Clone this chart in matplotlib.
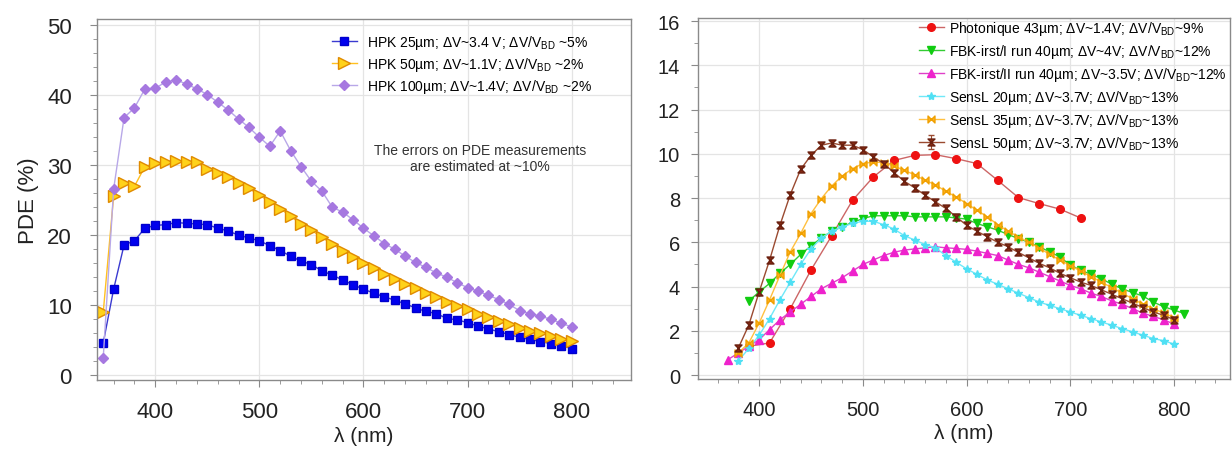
import numpy as np
import matplotlib
matplotlib.use("Agg")
import matplotlib.pyplot as plt
from matplotlib.path import Path
from matplotlib.ticker import MultipleLocator

plt.rcParams['font.family'] = ['Liberation Sans', 'DejaVu Sans']
plt.rcParams['mathtext.fontset'] = 'custom'
plt.rcParams['mathtext.rm'] = 'Liberation Sans'
plt.rcParams['mathtext.default'] = 'regular'

# ---- left panel: HPK ----
wl_hpk = list(range(350, 801, 10))
hpk25 = [4.6, 12.3, 18.6, 19.2, 21.0, 21.4, 21.5, 21.8, 21.7, 21.6,
         21.5, 21.0, 20.6, 20.0, 19.6, 19.2, 18.5, 17.8, 17.0, 16.3,
         15.8, 14.9, 14.3, 13.6, 12.9, 12.3, 11.7, 11.2, 10.7, 10.2,
         9.6, 9.1, 8.8, 8.1, 7.9, 7.5, 7.0, 6.6, 6.2, 5.8,
         5.4, 5.1, 4.8, 4.5, 4.2, 3.8]
hpk50 = [9.0, 25.6, 27.5, 27.0, 29.8, 30.3, 30.5, 30.6, 30.5, 30.4,
         29.4, 28.9, 28.3, 27.4, 26.7, 25.7, 24.8, 23.8, 22.7, 21.6,
         20.7, 19.7, 18.7, 17.8, 16.9, 16.0, 15.3, 14.5, 13.8, 13.0,
         12.4, 11.7, 11.2, 10.5, 9.9, 9.4, 8.8, 8.3, 7.8, 7.3,
         6.8, 6.3, 6.0, 5.6, 5.1, 4.9]
hpk100 = [2.5, 26.6, 36.8, 38.2, 40.9, 41.0, 41.9, 42.2, 41.6, 40.9,
          40.1, 39.0, 37.9, 36.6, 35.4, 34.0, 32.7, 34.9, 32.1, 29.8,
          27.7, 26.3, 24.0, 23.3, 22.2, 21.0, 19.9, 18.8, 18.0, 17.0,
          16.1, 15.4, 14.6, 14.0, 13.2, 12.5, 12.0, 11.4, 10.8, 10.1,
          9.2, 8.8, 8.4, 8.0, 7.4, 6.9]

# ---- right panel ----
wl_phot = [390, 410, 430, 450, 470, 490, 510, 530, 550, 570, 590, 610, 630, 650, 670, 690, 710]
phot43 = [1.3, 1.45, 3.0, 4.75, 6.3, 7.9, 8.95, 9.7, 9.93, 9.96, 9.78, 9.56, 8.8, 8.02, 7.75, 7.5, 7.1]

wl_fbk1 = list(range(390, 811, 10))
fbk1 = [3.35, 3.76, 4.14, 4.6, 5.0, 5.45, 5.84, 6.2, 6.5, 6.7,
        6.9, 7.07, 7.2, 7.2, 7.2, 7.2, 7.15, 7.15, 7.15, 7.15,
        7.1, 7.05, 6.85, 6.7, 6.55, 6.35, 6.17, 6.0, 5.8, 5.57,
        5.34, 4.97, 4.74, 4.55, 4.36, 4.1, 3.9, 3.73, 3.57, 3.3,
        3.09, 2.94, 2.78]

wl_fbk2 = list(range(370, 801, 10))
fbk2 = [0.7, 1.0, 1.3, 1.6, 2.05, 2.5, 2.85, 3.2, 3.55, 3.9,
        4.15, 4.4, 4.7, 5.0, 5.2, 5.4, 5.55, 5.65, 5.7, 5.75,
        5.8, 5.75, 5.72, 5.68, 5.6, 5.5, 5.4, 5.2, 5.0, 4.85,
        4.65, 4.45, 4.25, 4.05, 3.9, 3.7, 3.55, 3.35, 3.2, 3.0,
        2.8, 2.65, 2.5, 2.3]

wl_sensl = list(range(380, 801, 10))
sensl20 = [0.65, 1.2, 1.8, 2.55, 3.4, 4.2, 5.0, 5.7, 6.2, 6.5,
           6.7, 6.85, 6.95, 6.95, 6.8, 6.6, 6.3, 6.1, 5.9, 5.75,
           5.4, 5.1, 4.8, 4.55, 4.3, 4.1, 3.9, 3.7, 3.5, 3.3,
           3.15, 3.0, 2.85, 2.7, 2.55, 2.4, 2.25, 2.1, 1.95, 1.8,
           1.65, 1.55, 1.4]
sensl35 = [1.0, 1.45, 2.35, 3.4, 4.5, 5.57, 6.4, 7.3, 7.98, 8.55,
           9.0, 9.33, 9.56, 9.63, 9.6, 9.45, 9.25, 9.05, 8.8, 8.6,
           8.3, 8.05, 7.75, 7.45, 7.15, 6.8, 6.5, 6.25, 6.0, 5.75,
           5.45, 5.2, 4.95, 4.7, 4.45, 4.2, 3.95, 3.7, 3.45, 3.2,
           3.0, 2.8, 2.6]
sensl50 = [1.23, 2.26, 3.76, 5.19, 6.77, 8.16, 9.3, 9.93, 10.39, 10.49,
           10.39, 10.39, 10.19, 9.86, 9.56, 9.15, 8.76, 8.46, 8.13, 7.83,
           7.53, 7.15, 6.77, 6.5, 6.25, 6.0, 5.8, 5.54, 5.3, 5.05,
           4.85, 4.6, 4.4, 4.2, 4.05, 3.85, 3.65, 3.45, 3.25, 3.05,
           2.85, 2.7, 2.5]

hourglass = Path([(-1, 1), (1, 1), (-1, -1), (1, -1), (-1, 1)],
                 [Path.MOVETO, Path.LINETO, Path.LINETO, Path.LINETO, Path.CLOSEPOLY])
bowtie = Path([(-1, 1), (-1, -1), (1, 1), (1, -1), (-1, 1)],
              [Path.MOVETO, Path.LINETO, Path.LINETO, Path.LINETO, Path.CLOSEPOLY])

fig = plt.figure(figsize=(12.32, 4.52), dpi=100)
ax1 = fig.add_axes([97 / 1232, 1 - 381 / 452, 534 / 1232, 361 / 452])
ax2 = fig.add_axes([698 / 1232, 1 - 380 / 452, 532 / 1232, 361 / 452])

spine_c = '#8a8a8a'
for ax in (ax1, ax2):
    for s in ax.spines.values():
        s.set_color(spine_c)
        s.set_linewidth(1.0)
    ax.grid(True, color='#e4e4e4', lw=0.9)
    ax.set_axisbelow(True)
    ax.xaxis.set_major_locator(MultipleLocator(100))
    ax.xaxis.set_minor_locator(MultipleLocator(20))
    ax.tick_params(which='both', direction='out', color=spine_c, labelcolor='#222222')
    ax.tick_params(which='major', length=5)
    ax.tick_params(which='minor', length=3)

# left
ax1.plot(wl_hpk, hpk25, '-s', color='#3a3ad0', mfc='#0000ee', mec='#0000cc', ms=6, lw=1.0,
         label=r'HPK 25µm; ΔV~3.4 V; ΔV/V$_{BD}$ ~5%')
ax1.plot(wl_hpk, hpk50, '->', color='#ffc020', mfc='#ffd21a', mec='#e08a00', ms=8.5, mew=1.0, lw=1.0,
         label=r'HPK 50µm; ΔV~1.1V; ΔV/V$_{BD}$ ~2%')
ax1.plot(wl_hpk, hpk100, '-D', color='#b8a8e8', mfc='#a678e0', mec='#a678e0', ms=5.5, lw=1.0,
         label=r'HPK 100µm; ΔV~1.4V; ΔV/V$_{BD}$ ~2%')
ax1.set_xlim(344, 857)
ax1.set_ylim(-0.7, 50.9)
ax1.yaxis.set_major_locator(MultipleLocator(10))
ax1.yaxis.set_minor_locator(MultipleLocator(2))
ax1.tick_params(which='major', labelsize=16)
ax1.tick_params(axis='x', pad=10)
ax1.tick_params(axis='y', pad=13)
ax1.set_xlabel('λ (nm)', fontsize=15, color='#222222', labelpad=3)
ax1.set_ylabel('PDE (%)', fontsize=16, color='#222222', labelpad=6)
ax1.legend(loc='upper left', bbox_to_anchor=(0.44, 0.961), frameon=False, fontsize=10,
           handlelength=1.8, handletextpad=0.7, labelspacing=0.27, borderpad=0, borderaxespad=0)
ax1.text(0.717, 0.615, 'The errors on PDE measurements\nare estimated at ~10%', transform=ax1.transAxes,
         ha='center', va='center', fontsize=10, color='#333333', linespacing=1.2)

# right
ax2.plot(wl_phot, phot43, '-o', color='#cc6666', mfc='#ee1111', mec='#ee1111', ms=5.5, lw=1.0,
         label=r'Photonique 43µm; ΔV~1.4V; ΔV/V$_{BD}$~9%')
ax2.plot(wl_fbk1, fbk1, '-v', color='#33cc33', mfc='#11cc11', mec='#11cc11', ms=6, lw=1.0,
         label=r'FBK-irst/I run 40µm; ΔV~4V; ΔV/V$_{BD}$~12%')
ax2.plot(wl_fbk2, fbk2, '-^', color='#e040c8', mfc='#ee22cc', mec='#ee22cc', ms=6, lw=1.0,
         label=r'FBK-irst/II run 40µm; ΔV~3.5V; ΔV/V$_{BD}$~12%')
ax2.plot(wl_sensl, sensl20, '-*', color='#70e8f8', mfc='#50e0f4', mec='#50e0f4', ms=6, lw=1.0,
         label=r'SensL 20µm; ΔV~3.7V; ΔV/V$_{BD}$~13%')
ax2.plot(wl_sensl, sensl35, '-', marker=bowtie, color='#ffc040', mfc='#ffb020', mec='#f0a000', ms=5, lw=1.0,
         label=r'SensL 35µm; ΔV~3.7V; ΔV/V$_{BD}$~13%')
ax2.errorbar(wl_sensl, sensl50, yerr=0.12, fmt='-', marker=hourglass, color='#9a4a30', mfc='#8a2a10',
             mec='#6a2010', ms=5, lw=1.0, elinewidth=0.8, capsize=2.5,
             label=r'SensL 50µm; ΔV~3.7V; ΔV/V$_{BD}$~13%')
ax2.set_xlim(341, 854)
ax2.set_ylim(-0.18, 16.14)
ax2.yaxis.set_major_locator(MultipleLocator(2))
ax2.yaxis.set_minor_locator(MultipleLocator(1))
ax2.tick_params(which='major', labelsize=14.5)
ax2.tick_params(axis='x', pad=10)
ax2.tick_params(axis='y', pad=8)
ax2.set_xlabel('λ (nm)', fontsize=15, color='#222222', labelpad=3)
ax2.legend(loc='upper left', bbox_to_anchor=(0.415, 0.998), frameon=False, fontsize=10,
           handlelength=1.8, handletextpad=0.4, labelspacing=0.36, borderpad=0, borderaxespad=0)

fig.savefig('out.png', dpi=100)
